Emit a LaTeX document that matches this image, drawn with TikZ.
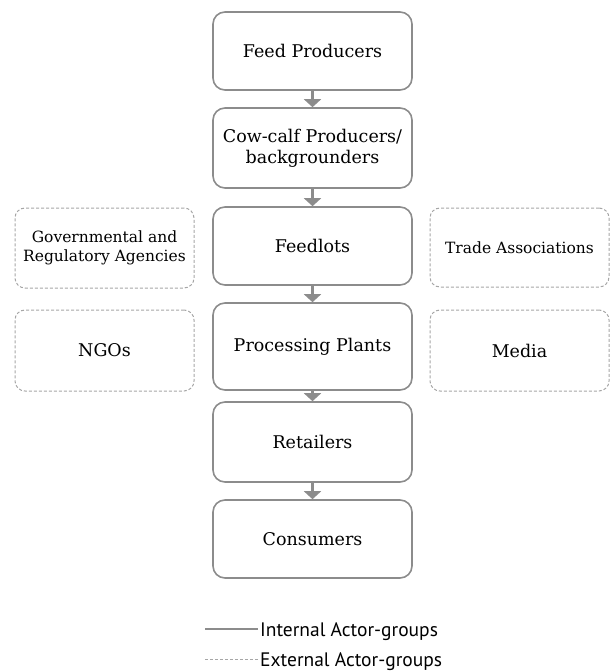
\documentclass[tikz,border=0pt]{standalone}
\usepackage{fontspec}
\setmainfont{DejaVu Serif}
\newfontfamily\legendfont{PT Sans}
\usepackage{tikz}
\usetikzlibrary{arrows.meta,positioning}
\definecolor{boxgray}{HTML}{8C8C8C}
\definecolor{dashgray}{HTML}{A6A6A6}

\begin{document}
\begin{tikzpicture}[
x=1pt,y=-1pt,
font=\fontsize{17.5}{21}\selectfont,
actor/.style={draw=boxgray,line width=1.6pt,rounded corners=12pt,align=center,
    minimum width=199pt,inner sep=0pt},
external/.style={draw=dashgray,dashed,dash pattern=on 3pt off 2pt,line width=1pt,
    rounded corners=10pt,align=center,minimum width=179pt,inner sep=0pt},
small/.style={font=\fontsize{15.5}{19}\selectfont},
flow/.style={-{Triangle[width=17pt,length=8pt]},line width=3pt,draw=boxgray},
keytext/.style={anchor=base west,inner sep=0pt,text=black,font=\legendfont\fontsize{19.5}{22}\selectfont},
scale=1]
    \useasboundingbox (0,0) rectangle (611,671);

    % Supply chain
    \node[actor,minimum height=78pt] (feed) at (312.5,51) {Feed Producers};
    \node[actor,minimum height=80pt] (cowcalf) at (312.5,148) {Cow-calf Producers/\\backgrounders};
    \node[actor,minimum height=78pt] (feedlots) at (312.5,246) {Feedlots};
    \node[actor,minimum height=87pt] (processing) at (312.5,346.5) {Processing Plants};
    \node[actor,minimum height=80pt] (retailers) at (312.5,442) {Retailers};
    \node[actor,minimum height=78pt] (consumers) at (312.5,539) {Consumers};

    \draw[flow] (feed) -- (cowcalf);
    \draw[flow] (cowcalf) -- (feedlots);
    \draw[flow] (feedlots) -- (processing);
    \draw[flow] (processing) -- (retailers);
    \draw[flow] (retailers) -- (consumers);

    % External actors
    \node[external,small,minimum height=80pt] (gov) at (104.5,248) {Governmental and\\Regulatory Agencies};
    \node[external,minimum height=81pt] (ngos) at (104.5,350.5) {NGOs};
    \node[external,small,minimum height=79pt] (trade) at (519.5,247.5) {Trade Associations};
    \node[external,minimum height=81pt] (media) at (519.5,350.5) {Media};

    % Legend
    \coordinate (intA) at (205,629);
    \coordinate (intB) at (258,629);
    \coordinate (extA) at (205,659);
    \coordinate (extB) at (258,659);
    \draw[boxgray,line width=1.3pt] (intA) -- (intB);
    \node (internal) [keytext] at (260,636) {Internal Actor-groups};
    \draw[dashgray,line width=1pt,dash pattern=on 3pt off 2pt] (extA) -- (extB);
    \node (externalkey) [keytext] at (260,666) {External Actor-groups};

\end{tikzpicture}
\end{document}
